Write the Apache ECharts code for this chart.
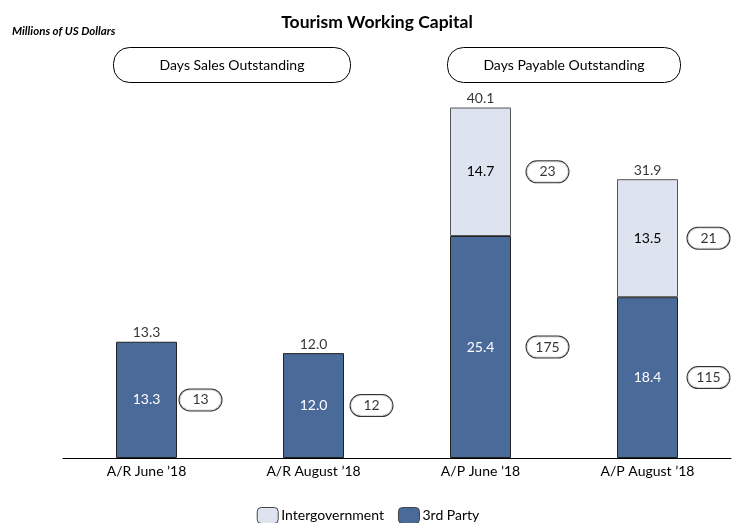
<!DOCTYPE html>
<html>
<head>
<meta charset="utf-8">
<script src="https://cdn.jsdelivr.net/npm/echarts@6/dist/echarts.min.js"></script>
<style>
html,body{margin:0;padding:0;background:#fff;}
#chart{width:736px;height:523px;}
</style>
</head>
<body>
<div id="chart"></div>
<script>
var categories = ['A/R June \u201918', 'A/R August \u201918', 'A/P June \u201918', 'A/P August \u201918'];
var thirdParty = [13.3, 12.0, 25.4, 18.4];
var intergov = [null, null, 14.7, 13.5];
var totals = [13.3, 12.0, 40.1, 31.9];
var daysThirdParty = [13, 12, 175, 115];
var daysIntergov = [null, null, 23, 21];

var FONT = 'Lato, "Open Sans", sans-serif';
var FS = 14;
var dark = '#4a6a9a';
var light = '#dde3ef';
var bubbleOffsets = [54, 58, 67, 61];

function bubbleData(base, vals, days) {
  var out = [];
  for (var i = 0; i < categories.length; i++) {
    if (vals[i] == null) { out.push(null); continue; }
    var b = base ? (base[i] || 0) : 0;
    out.push({
      value: [i, b + vals[i] / 2],
      days: days[i],
      label: { offset: [bubbleOffsets[i], 0] }
    });
  }
  return out;
}

var chart = echarts.init(document.getElementById('chart'));
chart.setOption({
  animation: false,
  textStyle: { fontFamily: FONT },
  title: {
    text: 'Tourism Working Capital',
    left: 372, top: 8, textAlign: 'center',
    textStyle: { fontFamily: FONT, fontSize: 17.5, fontWeight: 'bold', color: '#000' }
  },
  graphic: [
    { type: 'text', left: 12, top: 25, style: { text: 'Millions of US Dollars', font: 'italic bold 11.5px ' + FONT, fill: '#000' } },
    { type: 'rect', shape: { x: 113.5, y: 47.5, width: 237, height: 35, r: 16 }, style: { fill: '#fff', stroke: '#000', lineWidth: 1 } },
    { type: 'text', x: 232, y: 65, style: { text: 'Days Sales Outstanding', font: '14px ' + FONT, fill: '#000', align: 'center', verticalAlign: 'middle' } },
    { type: 'rect', shape: { x: 447.5, y: 47.5, width: 233, height: 35, r: 16 }, style: { fill: '#fff', stroke: '#000', lineWidth: 1 } },
    { type: 'text', x: 564, y: 65, style: { text: 'Days Payable Outstanding', font: '14px ' + FONT, fill: '#000', align: 'center', verticalAlign: 'middle' } }
  ],
  legend: {
    top: 502, left: 'center',
    itemWidth: 21, itemHeight: 16, itemGap: 14,
    data: ['Intergovernment', '3rd Party'],
    itemStyle: { borderColor: '#444', borderWidth: 1 },
    textStyle: { fontFamily: FONT, fontSize: FS, color: '#000', padding: [0, 0, 0, -2] }
  },
  grid: { left: 63, right: 5, top: 21, bottom: 65 },
  xAxis: {
    type: 'category',
    data: categories,
    axisLine: { lineStyle: { color: '#000', width: 1 } },
    axisTick: { show: false },
    axisLabel: { color: '#000', fontSize: FS, fontFamily: FONT, margin: 6 }
  },
  yAxis: { type: 'value', min: 0, max: 50, show: false, splitLine: { show: false } },
  series: [
    {
      name: '3rd Party', type: 'bar', stack: 'a', data: thirdParty, barWidth: 61,
      itemStyle: { color: dark, borderColor: '#222', borderWidth: 1 },
      label: { show: true, position: 'inside', color: '#fff', fontSize: FS, fontFamily: FONT,
        formatter: function (p) { return p.value.toFixed(1); } }
    },
    {
      name: 'Intergovernment', type: 'bar', stack: 'a', data: intergov, barWidth: 61,
      itemStyle: { color: light, borderColor: '#555', borderWidth: 1 },
      label: { show: true, position: 'inside', color: '#000', fontSize: FS, fontFamily: FONT,
        formatter: function (p) { return p.value == null ? '' : p.value.toFixed(1); } }
    },
    {
      type: 'scatter', symbolSize: 0, silent: true,
      data: totals.map(function (v, i) { return [i, v]; }),
      label: { show: true, position: 'top', distance: 2, color: '#000', fontSize: FS, fontFamily: FONT,
        formatter: function (p) { return p.value[1].toFixed(1); } }
    },
    {
      type: 'scatter', symbolSize: 0, silent: true,
      data: bubbleData(null, thirdParty, daysThirdParty).concat(bubbleData(thirdParty, intergov, daysIntergov)),
      label: { show: true, position: 'inside', color: '#000', fontSize: FS, fontFamily: FONT,
        backgroundColor: '#fff', borderColor: '#000', borderWidth: 1, borderRadius: 11,
        width: 42, height: 21, align: 'center', verticalAlign: 'middle', lineHeight: 21,
        formatter: function (p) { return String(p.data.days); } }
    }
  ]
});
</script>
</body>
</html>
